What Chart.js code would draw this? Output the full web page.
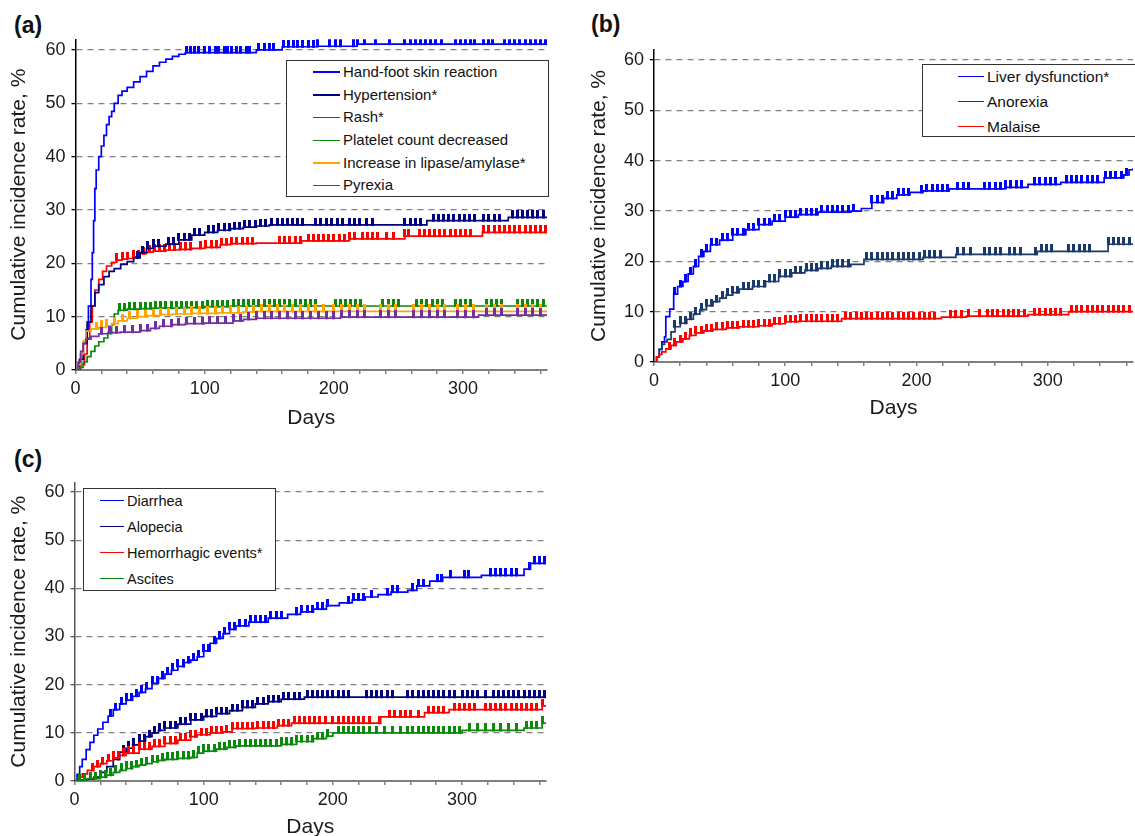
<!DOCTYPE html>
<html>
<head>
<meta charset="utf-8">
<script src="https://cdn.jsdelivr.net/npm/chart.js@4.4.1/dist/chart.umd.min.js"></script>
<style>
  html, body { margin:0; padding:0; background:#fff; }
  body { width:1135px; height:836px; overflow:hidden; position:relative; font-family:'Liberation Sans', Arial, Helvetica, sans-serif; color:#111; }
  canvas { position:absolute; }
  .plabel { position:absolute; font-weight:bold; font-size:23px; line-height:23px; color:#111; }
  .legend { position:absolute; background:#fff; border:1.5px solid #333; box-sizing:border-box; z-index:5; }
  .legend .ln { position:absolute; height:1.5px; }
  .legend .tx { position:absolute; white-space:nowrap; }
</style>
</head>
<body>
<div class="plabel" style="left:14px;top:14px">(a)</div>
<div class="plabel" style="left:591px;top:13px">(b)</div>
<div class="plabel" style="left:14px;top:448px">(c)</div>
<canvas id="cA" width="560" height="440" style="left:0;top:0"></canvas>
<canvas id="cB" width="555" height="430" style="left:580px;top:0"></canvas>
<canvas id="cC" width="560" height="410" style="left:0;top:440px"></canvas>
<div id="legA" class="legend"></div>
<div id="legB" class="legend"></div>
<div id="legC" class="legend"></div>
<script>
// ---------------- DATA ----------------
const xTickLabels = [0, 100, 200, 300];
const yTickLabels = [0, 10, 20, 30, 40, 50, 60];

// Panel (a)
const aNames = ['Hand-foot skin reaction','Hypertension*','Rash*','Platelet count decreased','Increase in lipase/amylase*','Pyrexia'];
const hfsrDays = [0,2,4,6,8,10,12,13,14,15,16,18,20,22,24,26,28,30,33,36,40,45,50,55,60,65,70,75,80,85,140,160,187,218,365];
const hfsrVals = [0,1,3,5,7.5,12,17,22,28,34,37.5,40,42,44,46,47.5,48.5,50,51.5,52.3,53,54,55,56,57,57.7,58.3,58.8,59.2,59.5,60,60.6,60.7,61.1,61.1];
const hfsrCens = [86,89,92,95,100,104,108,111,115,118,121,125,128,132,135,142,146,150,153,161,165,169,172,176,180,184,187,197,201,205,215,218,224,232,243,255,259,263,267,271,275,279,283,294,298,302,306,309,316,320,323,332,336,340,344,348,352,356,360,364];

const htnDays = [0,3,6,9,12,15,18,22,26,30,35,40,45,50,55,60,70,80,90,100,110,120,130,140,150,272,335,365];
const htnVals = [0,2,5,9,12,14.5,16,17.5,18.5,19,19.8,20.3,21,22,22.8,23.2,23.6,24.4,25.3,25.8,26.2,26.5,26.8,27,27.2,28,28.6,28.6];
const htnCens = [48,52,56,60,64,72,76,80,84,88,92,96,103,107,111,115,119,123,127,131,135,139,143,147,152,156,160,164,168,172,176,186,190,194,198,203,207,212,216,220,225,230,255,259,263,267,277,281,285,289,293,297,301,305,309,316,320,324,328,338,342,346,350,354,358,362];

const rashDays = [0,4,7,9,11,13,15,18,21,24,28,32,36,40,45,50,55,60,70,80,90,100,112,120,140,175,212,255,315,365];
const rashVals = [0,1,3,6,9,12,15,17,18.5,19.5,20.2,20.6,20.8,20.9,21.2,21.8,22.1,22.3,22.5,22.6,22.8,23,23.5,23.7,23.8,24.2,24.6,25.1,25.8,25.8];
const rashCens = [32,36,40,45,49,53,57,61,65,69,73,77,81,85,89,97,101,105,109,113,117,121,125,129,133,137,158,162,166,170,174,180,184,188,192,196,200,204,208,212,216,222,226,230,234,241,246,255,258,266,270,274,278,282,286,290,294,298,302,306,316,320,324,328,332,336,340,344,348,352,356,360,364];

const pltDays = [0,3,6,9,12,15,18,22,25,28,30,33,40,50,60,80,100,120,365];
const pltVals = [0,0.5,1.5,2.5,3.5,4.5,5.3,6,6.8,8.5,10.5,11.2,11.4,11.5,11.6,11.7,11.9,12,12];
const pltCens = [34,38,42,46,50,54,58,62,66,70,74,78,82,86,90,94,98,102,106,110,114,118,122,126,130,134,138,142,146,150,154,158,162,166,170,174,178,182,186,201,205,209,213,217,221,238,242,246,250,264,268,272,276,280,284,294,298,302,306,318,322,326,330,342,346,350,354,358,362];

const lipDays = [0,2,4,6,8,12,18,24,28,33,40,48,56,65,75,90,110,130,140,365];
const lipVals = [0,1,3,5.5,7.3,7.7,8,8.3,8.7,9.2,9.7,10,10.2,10.4,10.5,10.6,10.7,10.9,11,11];
const lipCens = [16,20,24,30,36,42,48,54,60,66,72,78,84,90,96,102,108,114,120,126,132,138,144,150,156,162,168,174,180,186,192,200,206,212,218,224,236,242,248,262,268,274,280,286,296,302,308,318,324,330,342,348,354,360];

const pyrDays = [0,2,4,6,8,12,18,25,35,50,58,65,75,85,100,122,130,140,205,312,365];
const pyrVals = [0,1.5,3.5,5,5.8,6.3,6.8,7,7.1,7.4,7.8,8.2,8.5,8.7,8.8,9.2,9.5,9.7,9.9,10.3,10.3];
const pyrCens = [20,26,32,38,44,50,56,62,68,74,80,86,92,98,104,110,116,122,128,134,140,146,152,158,164,170,176,182,188,194,200,206,212,218,224,236,242,248,262,268,274,280,286,296,302,308,318,324,330,342,348,354,360];

// Panel (b)
const bNames = ['Liver dysfunction*','Anorexia','Malaise'];
const liverDays = [0,2,4,6,8,9,12,15,18,22,26,30,34,38,43,50,60,70,80,90,100,110,125,150,158,166,175,185,195,205,225,268,285,310,343,358,362,365];
const liverVals = [0,1,2.5,4,5,9,10.5,13.5,15,16,17.5,19,21,22,23.3,24.2,25.3,26.3,27.3,28,28.8,29.3,29.8,30,30.5,31.7,32.5,33.2,33.7,34,34.4,34.7,35.3,35.7,36.6,37.2,38.2,38.5];
const liverCens = [16,20,24,28,32,36,40,44,48,52,56,60,64,68,72,76,80,84,88,92,96,100,104,108,112,116,120,124,128,132,136,140,144,148,152,166,170,174,178,182,186,190,194,204,208,212,216,220,224,231,236,240,252,256,260,264,268,272,276,280,290,294,298,302,306,314,318,322,326,330,334,338,344,348,352,356,360];

const anorexiaDays = [0,2,4,6,8,10,13,16,20,25,30,35,40,45,50,55,60,65,75,85,95,105,115,125,135,150,160,205,230,292,346,365];
const anorexiaVals = [0,1,2.5,3.5,4,4.5,6,7,7.7,8.5,9.5,10.4,11.2,12,12.7,13.3,13.8,14.5,15,16,17,17.7,18.2,18.6,19,19.4,20.4,20.8,21.4,22,23.4,23.6];
const anorexiaCens = [16,20,24,28,32,36,40,44,48,52,56,60,64,68,72,76,80,84,88,92,96,100,104,108,112,116,120,124,128,132,136,140,144,148,162,166,170,174,178,182,186,190,194,198,202,206,210,214,218,231,236,241,252,256,260,264,271,275,279,291,295,299,303,316,320,324,328,332,346,350,354,358,362];

const malaiseDays = [0,2,4,6,9,13,17,22,27,32,38,45,55,65,80,90,100,110,143,219,238,285,316,365];
const malaiseVals = [0,1,1.5,2,2.6,3.3,4,4.6,5.3,5.8,6.2,6.5,6.8,7,7.2,7.6,8,8.1,8.6,8.9,9.1,9.4,10,10];
const malaiseCens = [12,16,20,24,28,32,36,40,44,48,52,56,60,64,68,72,76,80,84,88,92,96,100,104,108,112,116,120,124,128,132,136,140,146,150,154,158,162,166,170,174,178,182,186,190,194,198,202,206,210,214,226,230,234,240,248,254,258,262,266,270,274,278,282,290,294,298,302,306,310,318,322,326,330,334,338,342,346,350,354,358,362];

// Panel (c)
const cNames = ['Diarrhea','Alopecia','Hemorrhagic events*','Ascites'];
const diarDays = [0,2,4,6,9,12,15,18,22,26,30,35,40,45,50,55,60,65,70,75,80,85,90,95,100,105,110,115,120,125,135,150,165,175,185,195,205,215,225,235,245,258,265,275,285,315,348,353,365];
const diarVals = [0,1.4,3,4.5,6.5,8,9.5,10.8,12.2,13.5,14.8,16,16.8,17.6,18.4,19.2,20.3,21.3,22.2,23,23.8,24.6,25.1,25.8,27,28.6,29.6,30.6,31.5,32.2,33,33.8,34.6,35.1,35.7,36.4,37,37.6,38.2,38.7,39.2,39.6,40.5,41.5,42.3,42.7,44,45.2,45.3];
const diarCens = [28,32,36,40,44,48,52,56,60,64,68,72,76,80,84,88,92,96,100,104,108,112,116,120,124,128,132,136,140,144,148,152,156,160,172,176,180,184,188,192,196,212,216,220,224,230,242,246,250,262,266,270,281,284,291,302,305,322,326,330,334,338,342,352,356,360,364];

const alopDays = [0,5,10,15,20,25,30,35,40,45,50,55,60,65,70,80,90,100,110,120,130,140,150,160,178,365];
const alopVals = [0,0.2,0.4,0.8,1.8,3,4.5,6,6.8,7.5,8.3,9.2,10,10.5,11,11.8,12.7,13.4,14,14.6,15.3,16,16.5,17,17.4,17.4];
const alopCens = [30,34,38,42,46,50,54,58,62,66,70,74,78,82,86,90,94,98,102,106,110,114,118,122,126,130,134,138,142,146,150,154,158,162,166,170,174,180,184,188,192,196,200,204,208,212,226,230,234,238,242,246,258,262,266,270,274,278,282,286,290,294,300,304,308,312,318,324,328,332,336,340,344,348,352,356,360,364];

const hemDays = [0,3,6,10,15,20,25,30,35,40,50,60,70,80,90,95,105,115,122,140,157,168,237,271,290,362,365];
const hemVals = [0,0.8,1.5,2.2,3,3.6,4.2,4.8,5.3,5.8,6.6,7.2,7.8,8.5,9.2,9.6,10,10.2,10.9,11,11.5,12,13.3,14.2,14.8,15.6,15.6];
const hemCens = [14,18,22,26,30,34,38,42,46,50,54,58,62,66,70,74,78,82,86,90,94,98,102,106,110,114,118,122,126,130,134,138,142,146,150,154,158,162,166,170,174,178,182,186,190,194,200,204,208,212,216,220,224,228,236,244,248,252,256,260,266,274,278,282,286,294,298,302,306,310,318,322,326,330,334,338,342,346,350,354,358,362];

const ascDays = [0,10,20,25,30,35,40,45,50,55,60,65,70,80,90,95,100,110,118,125,160,172,185,195,200,300,348,362,365];
const ascVals = [0,0.5,0.8,1.2,1.8,2.2,2.6,3,3.3,3.6,4,4.3,4.5,4.7,4.9,5.8,6.2,6.6,7,7.3,7.6,8.2,8.8,9.3,10,10.5,11,12,12];
const ascCens = [4,8,12,16,20,24,28,32,36,40,44,48,52,56,60,64,68,72,76,80,84,88,92,96,100,104,108,112,116,120,124,128,132,136,140,144,148,152,156,160,164,168,172,176,180,184,188,192,196,204,208,212,216,220,224,228,234,240,246,252,258,262,266,270,274,278,282,286,290,294,298,306,312,318,324,330,336,342,350,354,358,362];

// ---------------- RENDER ----------------
const FONT = "'Liberation Sans', Arial, Helvetica, sans-serif";
const TXT = '#1a1a1a';

function stepAt(days, vals, d) {
  let v = vals[0];
  for (let i = 0; i < days.length; i++) { if (days[i] <= d) v = vals[i]; else break; }
  return v;
}
function tickImg(color) {
  const c = document.createElement('canvas');
  c.width = 3; c.height = 14;
  const g = c.getContext('2d');
  g.fillStyle = color; g.fillRect(0, 0, 3, 8);
  return c;
}

function makeChart(canvasId, series, L) {
  const datasets = [];
  series.forEach(s => {
    datasets.push({
      data: s.days.map((d, i) => ({x: d, y: s.vals[i]})),
      borderColor: s.color, borderWidth: 1.7, showLine: true, stepped: true,
      pointRadius: 0, pointHoverRadius: 0, fill: false
    });
    datasets.push({
      data: s.cens.map(d => ({x: d, y: stepAt(s.days, s.vals, d)})),
      pointStyle: tickImg(s.color), pointRadius: 3, pointHoverRadius: 3,
      showLine: false, borderColor: s.color, backgroundColor: s.color
    });
  });
  return new Chart(document.getElementById(canvasId), {
    type: 'scatter',
    data: {datasets},
    options: {
      responsive: false, animation: false, events: [],
      layout: {autoPadding: false, padding: {left: 0, right: L.right, top: L.top, bottom: 0}},
      plugins: {legend: {display: false}, tooltip: {enabled: false}},
      scales: {
        x: {
          type: 'linear', min: 0, max: 365,
          afterFit(s) { s.height = L.xh; },
          border: {color: '#808080', width: 2},
          grid: {drawOnChartArea: false, drawTicks: true, tickLength: 4, color: '#808080', tickColor: '#808080', lineWidth: 1.5},
          ticks: {
            stepSize: 20, includeBounds: false, autoSkip: false, maxRotation: 0, padding: 4,
            color: TXT, font: {size: 18, family: FONT},
            callback: v => xTickLabels.includes(v) ? String(v) : ''
          },
          title: {display: true, text: 'Days', color: TXT, font: {size: 21, family: FONT}, padding: {top: 0, bottom: L.tpb}}
        },
        y: {
          type: 'linear', min: 0, max: 62,
          afterFit(s) { s.width = L.yw; },
          border: {color: L.ycolor, width: 1.5, dash: [6, 5]},
          grid: {
            drawTicks: true, tickLength: 4, lineWidth: 1.3, tickColor: L.ycolor, tickWidth: 1.3,
            color: c => (c.tick && c.tick.value === 0) ? 'rgba(0,0,0,0)' : '#808080'
          },
          ticks: {
            stepSize: 10, includeBounds: false, padding: 6, color: TXT, font: {size: 18, family: FONT},
            callback: v => yTickLabels.includes(v) ? String(v) : ''
          },
          title: {display: true, text: 'Cumulative incidence rate, %', color: TXT, font: {size: 21, family: FONT}, padding: {top: 7, bottom: 0}}
        }
      }
    }
  });
}

function makeLegend(id, names, colors, G) {
  const el = document.getElementById(id);
  el.style.left = G.left + 'px'; el.style.top = G.top + 'px';
  el.style.width = G.width + 'px'; el.style.height = G.height + 'px';
  names.forEach((n, i) => {
    const cy = G.first + i * G.step;
    const ln = document.createElement('div');
    ln.className = 'ln';
    ln.style.left = G.lineX + 'px'; ln.style.width = G.lineW + 'px';
    ln.style.top = (cy - 0.75) + 'px'; ln.style.background = colors[i];
    const tx = document.createElement('div');
    tx.className = 'tx';
    tx.textContent = n;
    tx.style.left = G.textX + 'px';
    tx.style.fontSize = G.font + 'px';
    tx.style.lineHeight = G.step + 'px';
    tx.style.top = (cy - G.step / 2) + 'px';
    el.appendChild(ln); el.appendChild(tx);
  });
}

const aColors = ['#0000ff', '#000080', '#ff0000', '#0a8a0a', '#ffa500', '#7030a0'];
const bColors = ['#0000ff', '#1b3a6b', '#ff0000'];
const cColors = ['#0000ff', '#000080', '#ff0000', '#0a8a0a'];

makeChart('cA', [
  {days: pyrDays, vals: pyrVals, cens: pyrCens, color: aColors[5]},
  {days: lipDays, vals: lipVals, cens: lipCens, color: aColors[4]},
  {days: pltDays, vals: pltVals, cens: pltCens, color: aColors[3]},
  {days: htnDays, vals: htnVals, cens: htnCens, color: aColors[1]},
  {days: rashDays, vals: rashVals, cens: rashCens, color: aColors[2]},
  {days: hfsrDays, vals: hfsrVals, cens: hfsrCens, color: aColors[0]}
], {right: 13, top: 39.3, xh: 70, tpb: 9.4, yw: 75.5, ycolor: '#000'});

makeChart('cB', [
  {days: malaiseDays, vals: malaiseVals, cens: malaiseCens, color: bColors[2]},
  {days: anorexiaDays, vals: anorexiaVals, cens: anorexiaCens, color: bColors[1]},
  {days: liverDays, vals: liverVals, cens: liverCens, color: bColors[0]}
], {right: 2, top: 50, xh: 68, tpb: 9.4, yw: 74, ycolor: '#000'});

makeChart('cC', [
  {days: ascDays, vals: ascVals, cens: ascCens, color: cColors[3]},
  {days: hemDays, vals: hemVals, cens: hemCens, color: cColors[2]},
  {days: alopDays, vals: alopVals, cens: alopCens, color: cColors[1]},
  {days: diarDays, vals: diarVals, cens: diarCens, color: cColors[0]}
], {right: 14, top: 42.4, xh: 69, tpb: 10.4, yw: 74.5, ycolor: '#555'});

makeLegend('legA', aNames, aColors, {left: 286, top: 60, width: 263, height: 137, first: 11.2, step: 22.7, lineX: 26, lineW: 27, textX: 56, font: 15});
makeLegend('legB', bNames, bColors, {left: 922, top: 64, width: 215, height: 73, first: 11.5, step: 25, lineX: 35, lineW: 26, textX: 64, font: 15.5});
makeLegend('legC', cNames, cColors, {left: 83, top: 488, width: 193, height: 103, first: 11.5, step: 26, lineX: 16, lineW: 24, textX: 43, font: 14.5});
</script>
</body>
</html>
